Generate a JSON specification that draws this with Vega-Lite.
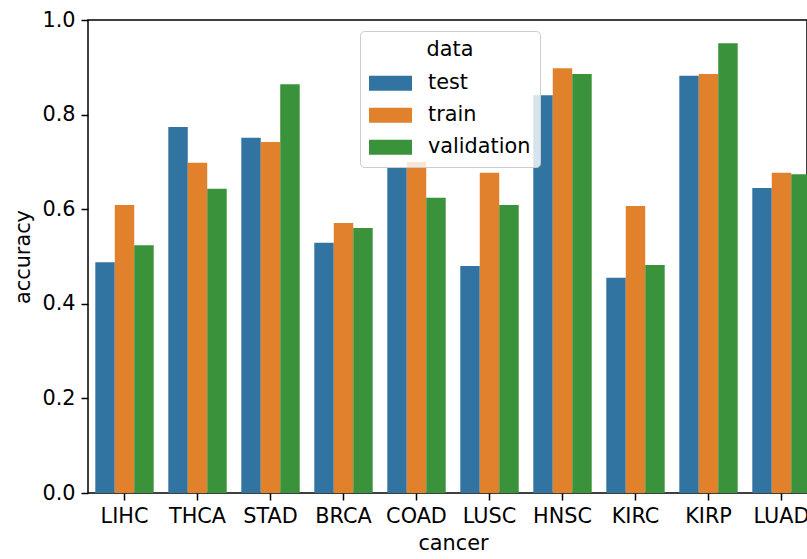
{
  "$schema": "https://vega.github.io/schema/vega-lite/v6.json",
  "width": 719,
  "height": 473,
  "autosize": {"type": "none"},
  "padding": {"left": 88, "top": 20, "right": 0, "bottom": 66},
  "background": "white",
  "config": {
    "font": "DejaVu Sans",
    "view": {"stroke": "black", "strokeWidth": 1.5},
    "axis": {"grid": false, "domain": false, "tickColor": "black", "tickWidth": 1.5, "tickSize": 7, "labelPadding": 6, "labelFontSize": 20.8, "labelColor": "black", "labelFont": "DejaVu Sans", "titleFont": "DejaVu Sans", "titleFontSize": 20.8, "titleFontWeight": "normal", "titleColor": "black", "titlePadding": 8}
  },
  "data": {
    "values": [
      {"cancer": "LIHC", "data": "test", "accuracy": 0.488},
      {"cancer": "LIHC", "data": "train", "accuracy": 0.609},
      {"cancer": "LIHC", "data": "validation", "accuracy": 0.524},
      {"cancer": "THCA", "data": "test", "accuracy": 0.774},
      {"cancer": "THCA", "data": "train", "accuracy": 0.698},
      {"cancer": "THCA", "data": "validation", "accuracy": 0.643},
      {"cancer": "STAD", "data": "test", "accuracy": 0.751},
      {"cancer": "STAD", "data": "train", "accuracy": 0.742},
      {"cancer": "STAD", "data": "validation", "accuracy": 0.864},
      {"cancer": "BRCA", "data": "test", "accuracy": 0.529},
      {"cancer": "BRCA", "data": "train", "accuracy": 0.571},
      {"cancer": "BRCA", "data": "validation", "accuracy": 0.560},
      {"cancer": "COAD", "data": "test", "accuracy": 0.689},
      {"cancer": "COAD", "data": "train", "accuracy": 0.700},
      {"cancer": "COAD", "data": "validation", "accuracy": 0.624},
      {"cancer": "LUSC", "data": "test", "accuracy": 0.480},
      {"cancer": "LUSC", "data": "train", "accuracy": 0.677},
      {"cancer": "LUSC", "data": "validation", "accuracy": 0.609},
      {"cancer": "HNSC", "data": "test", "accuracy": 0.841},
      {"cancer": "HNSC", "data": "train", "accuracy": 0.898},
      {"cancer": "HNSC", "data": "validation", "accuracy": 0.886},
      {"cancer": "KIRC", "data": "test", "accuracy": 0.455},
      {"cancer": "KIRC", "data": "train", "accuracy": 0.607},
      {"cancer": "KIRC", "data": "validation", "accuracy": 0.482},
      {"cancer": "KIRP", "data": "test", "accuracy": 0.882},
      {"cancer": "KIRP", "data": "train", "accuracy": 0.886},
      {"cancer": "KIRP", "data": "validation", "accuracy": 0.951},
      {"cancer": "LUAD", "data": "test", "accuracy": 0.645},
      {"cancer": "LUAD", "data": "train", "accuracy": 0.677},
      {"cancer": "LUAD", "data": "validation", "accuracy": 0.674}
    ]
  },
  "mark": {"type": "bar", "clip": false},
  "encoding": {
    "x": {
      "field": "cancer", "type": "nominal", "sort": null, "title": "cancer",
      "scale": {"range": [0, 730], "paddingInner": 0.2, "paddingOuter": 0.1},
      "axis": {"labelAngle": 0}
    },
    "xOffset": {"field": "data", "type": "nominal", "scale": {"paddingInner": 0, "paddingOuter": 0}},
    "y": {
      "field": "accuracy", "type": "quantitative", "title": "accuracy",
      "scale": {"domain": [0, 1], "nice": false},
      "axis": {"values": [0, 0.2, 0.4, 0.6, 0.8, 1.0], "format": ".1f"}
    },
    "color": {
      "field": "data", "type": "nominal", "title": "data",
      "scale": {"domain": ["test", "train", "validation"], "range": ["#3274a1", "#e1812c", "#3a923a"]},
      "legend": {
        "orient": "none", "legendX": 272, "legendY": 11,
        "fillColor": "rgba(255,255,255,0.8)", "strokeColor": "#cccccc", "cornerRadius": 4,
        "padding": 9,
        "titleAnchor": "middle", "titleFontSize": 20.8, "titleFontWeight": "normal", "titleColor": "black", "titleFont": "DejaVu Sans", "titlePadding": 1,
        "labelFontSize": 20.8, "labelColor": "black", "labelFont": "DejaVu Sans", "labelOffset": 16,
        "symbolType": "M-1,-0.35H1V0.35H-1Z", "symbolSize": 1849, "symbolStrokeWidth": 0, "symbolOpacity": 1,
        "rowPadding": 0
      }
    }
  }
}
